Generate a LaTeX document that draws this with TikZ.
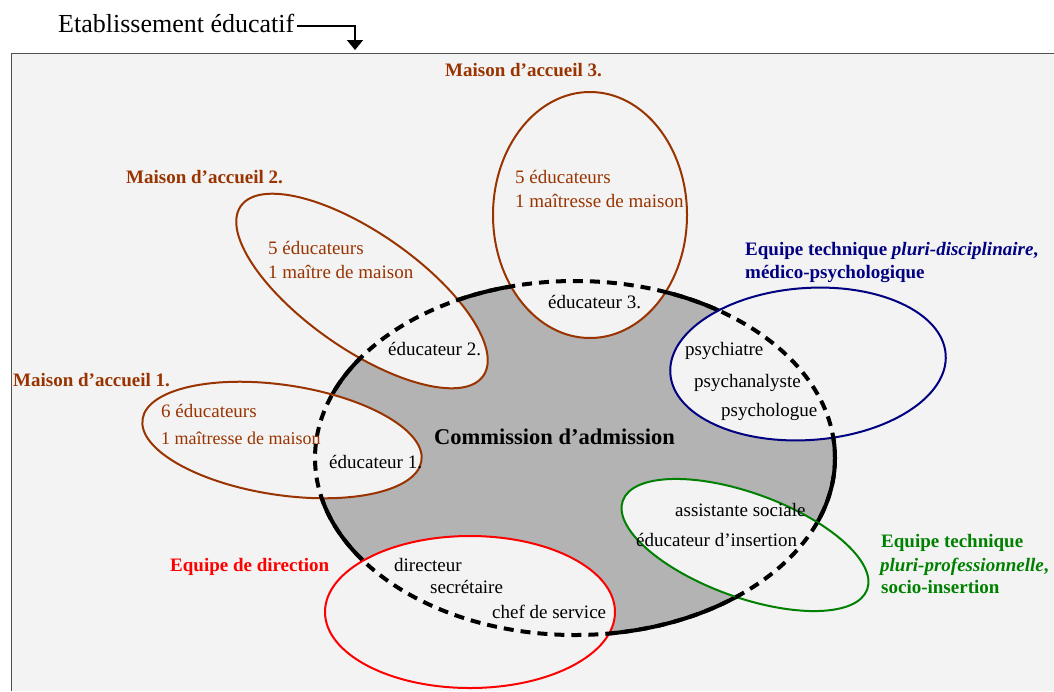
\documentclass[tikz,border=0pt]{standalone}
\usepackage{fontspec}
\setmainfont{Liberation Serif}
\usetikzlibrary{arrows.meta, positioning}
\definecolor{brun}{RGB}{153,51,0}
\definecolor{marine}{RGB}{0,0,128}
\definecolor{vert}{RGB}{0,128,0}
\definecolor{fond}{RGB}{243,243,243}
\definecolor{gris}{RGB}{179,179,179}
\definecolor{cadre}{RGB}{80,80,80}

\begin{document}
\begin{tikzpicture}[x=1pt, y=-1pt,
    txt/.style={anchor=base west, inner sep=0pt, font=\fontsize{19}{22}\selectfont},
    gras/.style={txt, font=\bfseries\fontsize{19}{22}\selectfont},
    bord/.style={line width=2pt, draw=#1, fill=fond},
    commission/.style={line width=4pt}]

    \useasboundingbox (0,0) rectangle (1054,691);
    \fill[fond] (11,53) rectangle (1054,691);
    \draw[cadre, line width=1pt] (11,691) -- (11,53) -- (1054,53);

    \node[txt, font=\fontsize{26}{30}\selectfont] (etab) at (58,32) {Etablissement éducatif};
    \coordinate (entree) at (355,50);
    \draw[line width=1.8pt, -{Triangle[length=10pt, width=16pt]}] ([xshift=3pt, yshift=-3pt]etab.east) -| (entree);

    % commission d'admission
    \fill[gris] (575,458) ellipse (260 and 177);
    \draw[commission] (575,458) ellipse (260 and 177);

    \draw[bord=brun] (590,215) ellipse (97 and 123);
    \draw[bord=brun, rotate around={-35:(362,291)}] (362,291) ellipse (148 and 58);
    \draw[bord=brun, rotate around={-8.5:(282,440)}] (282,440) ellipse (141 and 55);
    \draw[bord=red] (470,612) ellipse (145 and 76);
    \draw[bord=marine, rotate around={4:(808,364)}] (808,364) ellipse (138 and 76);
    \draw[bord=vert, rotate around={-20:(745,545)}] (745,545) ellipse (130 and 52);

    \draw[commission, dash pattern=on 10pt off 7pt] (575,458) ellipse (260 and 177);

    \node[gras, font=\bfseries\fontsize{22.5}{26}\selectfont] (comm) at (434,444) {Commission d’admission};

    \node[gras, brun] (m3) at (445,76) {Maison d’accueil 3.};
    \node[txt, brun] (m3a) at (515,183) {5 éducateurs};
    \node[txt, brun] (m3b) at (515,207) {1 maîtresse de maison};
    \node[txt] (ed3) at (548,308) {éducateur 3.};

    \node[gras, brun] (m2) at (126,183) {Maison d’accueil 2.};
    \node[txt, brun] (m2a) at (268,254) {5 éducateurs};
    \node[txt, brun] (m2b) at (268,278) {1 maître de maison};
    \node[txt] (ed2) at (388,355) {éducateur 2.};

    \node[gras, brun] (m1) at (13,386) {Maison d’accueil 1.};
    \node[txt, brun] (m1a) at (161,417) {6 éducateurs};
    \node[txt, brun, font=\fontsize{18}{21}\selectfont] (m1b) at (161,444) {1 maîtresse de maison};
    \node[txt] (ed1) at (329,468) {éducateur 1.};

    \node[gras, marine] (tech1) at (745,255) {Equipe technique \textit{pluri-disciplinaire},};
    \node[gras, marine] (tech1b) at (745,278) {médico-psychologique};
    \node[txt] (psy1) at (685,355) {psychiatre};
    \node[txt] (psy2) at (694,387) {psychanalyste};
    \node[txt] (psy3) at (721,416) {psychologue};

    \node[gras, vert] (tech2) at (881,547) {Equipe technique};
    \node[gras, vert] (tech2b) at (880,571) {\textit{pluri-professionnelle},};
    \node[gras, vert] (tech2c) at (881,593) {socio-insertion};
    \node[txt] (soc1) at (675,516) {assistante sociale};
    \node[txt] (soc2) at (636,546) {éducateur d’insertion};

    \node[gras, red] (dir) at (170,571) {Equipe de direction};
    \node[txt] (dir1) at (394,571) {directeur};
    \node[txt] (dir2) at (430,593) {secrétaire};
    \node[txt] (dir3) at (492,618) {chef de service};

\end{tikzpicture}
\end{document}
